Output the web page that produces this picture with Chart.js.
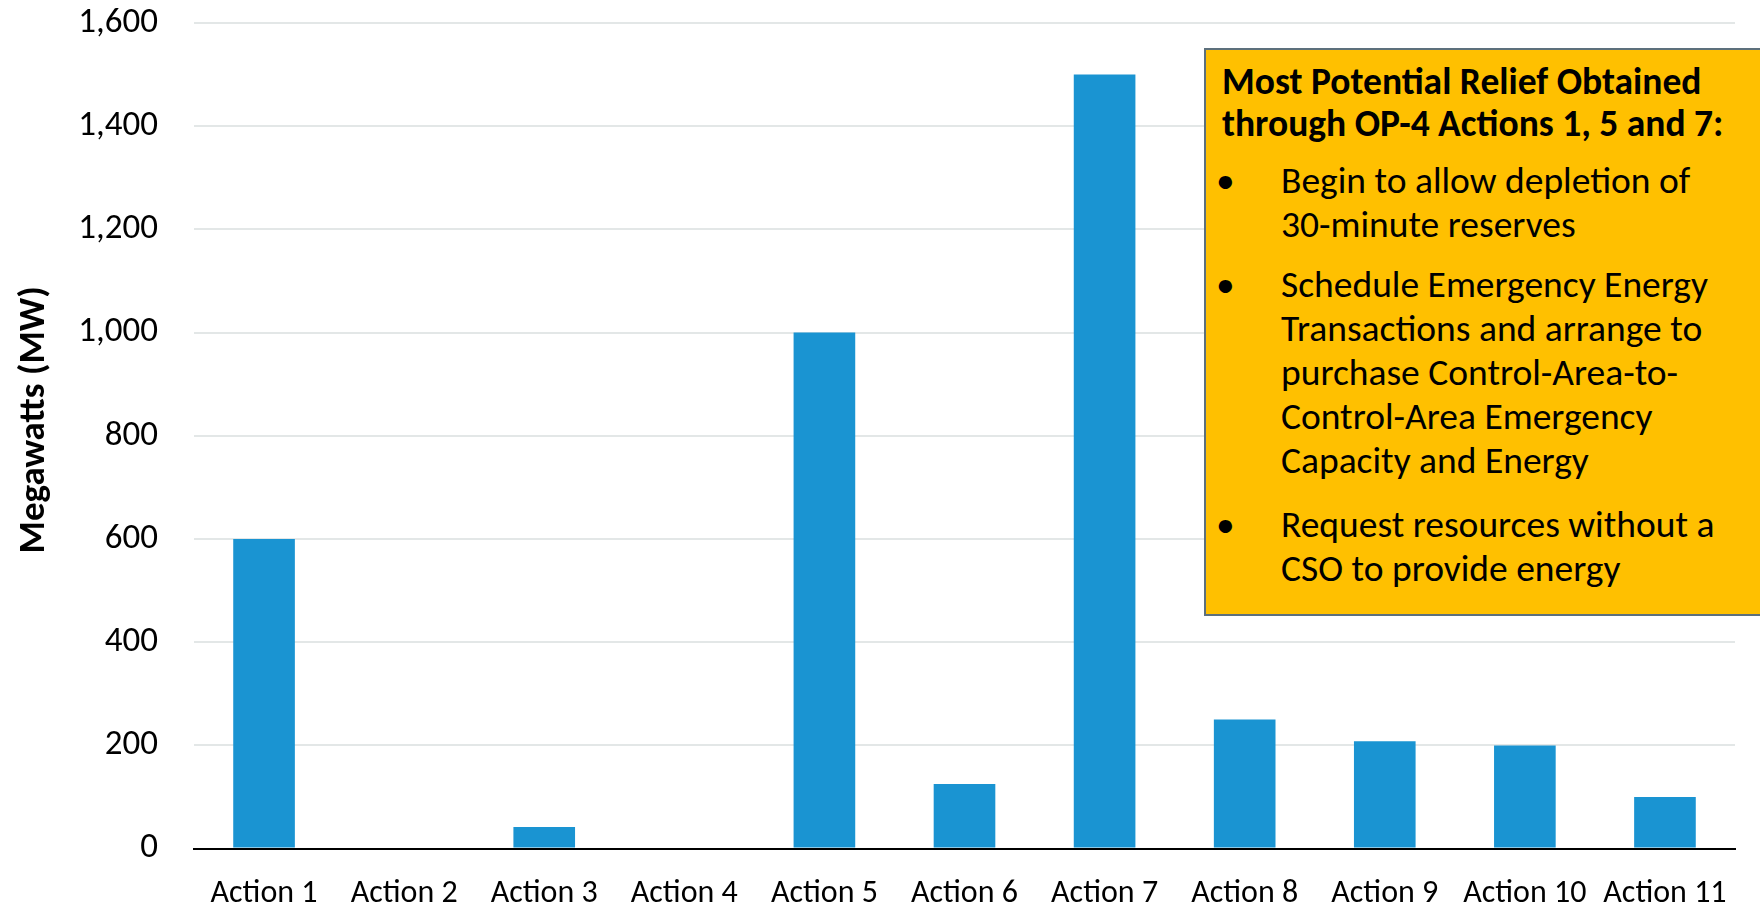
<!DOCTYPE html>
<html>
<head>
<meta charset="utf-8">
<script src="https://cdn.jsdelivr.net/npm/chart.js@4"></script>
<style>
  html, body { margin: 0; padding: 0; background: #fff; overflow: hidden; }
  #wrap { position: relative; width: 1760px; height: 907px; }
  #nota {
    position: absolute; left: 1204px; top: 48px; width: 600px; height: 568px;
    background: #FFC000; border: 2px solid #5d707c; box-sizing: border-box;
    font-family: Carlito, Calibri, Lato, sans-serif; font-size: 37.5px; line-height: 44px; color: #000;
    padding: 10px 0 0 16px;
  }
  #nota .tit { font-weight: bold; line-height: 42px; margin-bottom: 14px; }
  #nota .item { position: relative; padding-left: 59px; margin-bottom: 16px; }
  #nota .item.largo { margin-bottom: 20px; }
  #nota .item:before { content: "\2022"; position: absolute; left: -6px; }
</style>
</head>
<body>
<div id="wrap">
  <canvas id="grafico" width="1760" height="907"></canvas>
  <div id="nota">
    <div class="tit">Most Potential Relief Obtained<br>through OP-4 Actions 1, 5 and 7:</div>
    <div class="item">Begin to allow depletion of<br>30-minute reserves</div>
    <div class="item largo">Schedule Emergency Energy<br>Transactions and arrange to<br>purchase Control-Area-to-<br>Control-Area Emergency<br>Capacity and Energy</div>
    <div class="item">Request resources without a<br>CSO to provide energy</div>
  </div>
</div>
<script>
// datos
const acciones = ['Action 1', 'Action 2', 'Action 3', 'Action 4', 'Action 5', 'Action 6',
                  'Action 7', 'Action 8', 'Action 9', 'Action 10', 'Action 11'];
const megawatts = [600, 0, 42, 0, 1000, 125, 1500, 250, 208, 200, 100];
const ticksY = [0, 200, 400, 600, 800, 1000, 1200, 1400, 1600];
const tituloY = 'Megawatts (MW)';

const fuente = 'Carlito, Calibri, Lato, sans-serif';

// titulo del eje Y (un poco por encima del centro, como en el original)
const tituloEjeY = {
    id: 'tituloEjeY',
    afterDraw(chart) {
        const c = chart.ctx;
        const area = chart.chartArea;
        c.save();
        c.translate(35, (area.top + area.bottom) / 2 - 16);
        c.rotate(-Math.PI / 2);
        c.font = 'bold 37px ' + fuente;
        c.fillStyle = '#000';
        c.textAlign = 'center';
        c.textBaseline = 'middle';
        c.fillText(tituloY, 0, 0);
        c.restore();
    }
};

const ctx = document.getElementById('grafico').getContext('2d');
const grafico = new Chart(ctx, {
    type: 'bar',
    data: {
        labels: acciones,
        datasets: [{
            label: tituloY,
            data: megawatts,
            backgroundColor: '#1a94d2',
            borderWidth: 0,
            barPercentage: 0.88,
            categoryPercentage: 0.5
        }]
    },
    options: {
        responsive: false,
        animation: false,
        layout: { padding: { top: 23, right: 25, left: 0, bottom: -24 } },
        plugins: { legend: { display: false }, tooltip: { enabled: false } },
        scales: {
            x: {
                afterFit: (s) => { s.paddingLeft = 0; s.paddingRight = 0; },
                grid: { display: false },
                border: { color: '#000', width: 2 },
                ticks: { color: '#000', font: { family: fuente, size: 32 }, padding: 18,
                         maxRotation: 0, autoSkip: false }
            },
            y: {
                min: 0, max: 1600,
                afterBuildTicks: (s) => { s.ticks = ticksY.map(v => ({ value: v })); },
                afterFit: (s) => { s.width = 194; s.paddingTop = 0; s.paddingBottom = 0; },
                grid: {
                    color: (c) => c.tick && c.tick.value === 0 ? 'rgba(0,0,0,0)' : '#e3e7e7',
                    lineWidth: 2, drawTicks: false
                },
                border: { display: false },
                ticks: {
                    color: '#000', padding: 36,
                    font: { family: fuente, size: 35 },
                    callback: (v) => v.toLocaleString('en-US')
                }
            }
        }
    },
    plugins: [tituloEjeY]
});
</script>
</body>
</html>
